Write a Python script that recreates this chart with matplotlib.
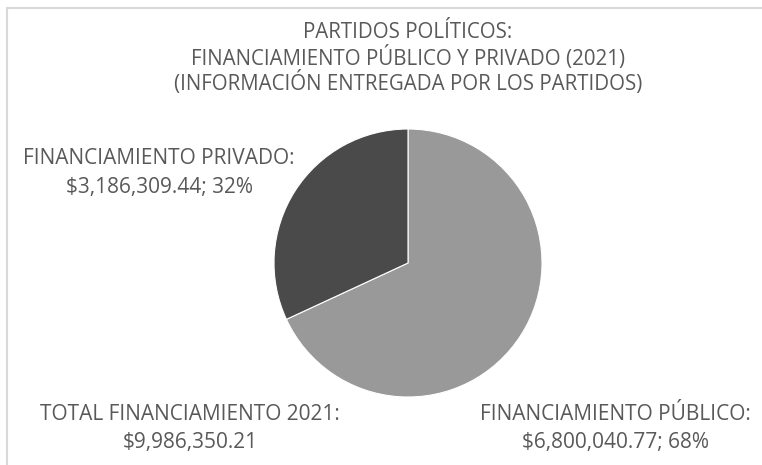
import matplotlib
matplotlib.use("Agg")
import matplotlib.pyplot as plt
from matplotlib.patches import Rectangle

categories = ["FINANCIAMIENTO PÚBLICO", "FINANCIAMIENTO PRIVADO"]
amounts = [6800040.77, 3186309.44]
percents = ["68%", "32%"]
total_label = "TOTAL FINANCIAMIENTO 2021:"
total_value = "$9,986,350.21"
title_lines = ["PARTIDOS POLÍTICOS:",
               "FINANCIAMIENTO PÚBLICO Y PRIVADO (2021)",
               "(INFORMACIÓN ENTREGADA POR LOS PARTIDOS)"]
colors = ["#999999", "#4a4a4a"]
txt = "#595959"

plt.rcParams['font.family'] = ['Open Sans', 'DejaVu Sans']

W, H = 762, 465
fig = plt.figure(figsize=(W / 100, H / 100), dpi=100)
fig.patch.set_facecolor("white")

# border
fig.patches.append(Rectangle((7 / W, -0.1), 1.0, 1 - 8 / H + 0.1, transform=fig.transFigure,
                             fill=False, edgecolor="#d9d9d9", linewidth=1.5))

cx, cy, r = 408, 263, 134
ax = fig.add_axes([(cx - r) / W, (H - cy - r) / H, 2 * r / W, 2 * r / H])
ax.pie(amounts, colors=colors, startangle=90, counterclock=False,
       wedgeprops=dict(edgecolor="white", linewidth=0.8))
ax.set_aspect("equal")
ax.set_xlim(-1, 1)
ax.set_ylim(-1, 1)
ax.axis("off")

def ftext(x, y, s, size=15):
    fig.text(x / W, 1 - y / H, s, ha="center", va="center", color=txt, fontsize=size)

for i, line in enumerate(title_lines):
    ftext(408, 33 + 25 * i, line, size=14.8)

def money(v):
    return "${:,.2f}".format(v)

ftext(159, 159, categories[1] + ":")
ftext(159, 188, money(amounts[1]) + "; " + percents[1])
ftext(190, 414, total_label)
ftext(190, 442, total_value)
ftext(615, 414, categories[0] + ":")
ftext(615, 442, money(amounts[0]) + "; " + percents[0])

fig.savefig("out.png", dpi=100)
